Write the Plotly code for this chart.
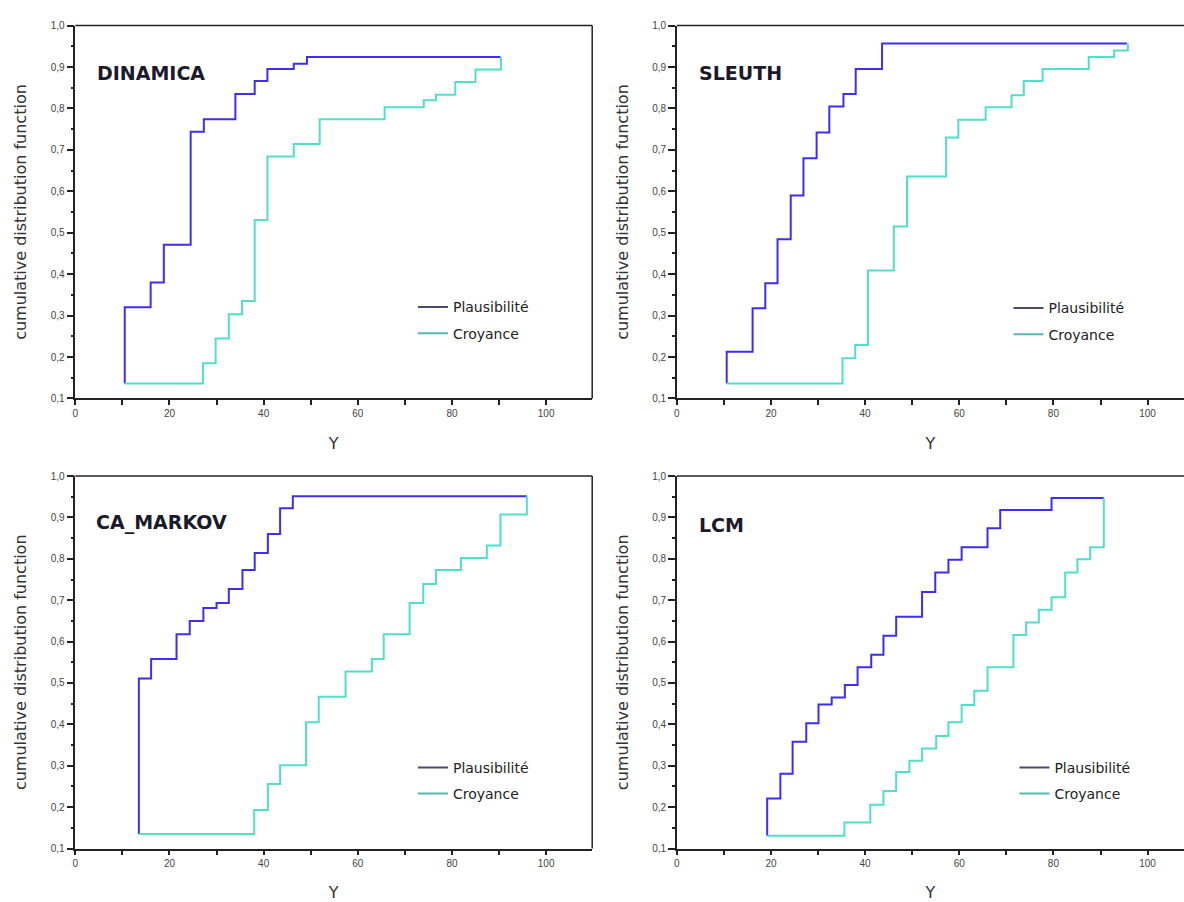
import plotly.graph_objects as go

# ---------------- data ----------------
panel_names = ["DINAMICA", "SLEUTH", "CA_MARKOV", "LCM"]
series_names = ["Plausibilité", "Croyance"]

dinamica_pl_x = [10.5, 10.5, 16.0, 18.8, 24.5, 27.3, 34.0, 38.1, 40.8, 46.4, 49.2, 90.3]
dinamica_pl_y = [0.136, 0.320, 0.380, 0.471, 0.744, 0.774, 0.835, 0.866, 0.895, 0.908, 0.924, 0.924]
dinamica_cr_x = [10.5, 27.1, 29.8, 32.6, 35.4, 38.1, 40.8, 46.4, 51.9, 65.7, 74.0, 76.6, 80.7, 85.0, 90.4]
dinamica_cr_y = [0.136, 0.185, 0.245, 0.303, 0.335, 0.531, 0.684, 0.714, 0.774, 0.803, 0.820, 0.833, 0.864, 0.894, 0.924]

sleuth_pl_x = [10.6, 10.6, 16.1, 18.8, 21.4, 24.2, 26.9, 29.7, 32.4, 35.4, 38.0, 43.6, 95.6]
sleuth_pl_y = [0.136, 0.213, 0.318, 0.378, 0.484, 0.590, 0.680, 0.742, 0.805, 0.835, 0.895, 0.957, 0.957]
sleuth_cr_x = [10.6, 35.2, 37.9, 40.6, 46.1, 48.9, 57.2, 59.8, 65.6, 71.1, 73.7, 77.7, 87.5, 92.9, 95.8]
sleuth_cr_y = [0.136, 0.197, 0.229, 0.409, 0.515, 0.636, 0.730, 0.773, 0.803, 0.832, 0.866, 0.895, 0.924, 0.940, 0.957]

camarkov_pl_x = [13.5, 13.5, 16.1, 21.5, 24.3, 27.2, 30.0, 32.6, 35.5, 38.1, 40.9, 43.5, 46.2, 95.9]
camarkov_pl_y = [0.135, 0.511, 0.558, 0.618, 0.650, 0.681, 0.693, 0.727, 0.773, 0.814, 0.860, 0.922, 0.951, 0.951]
camarkov_cr_x = [13.5, 38.0, 40.9, 43.5, 49.0, 51.7, 57.4, 63.0, 65.5, 71.0, 73.9, 76.6, 81.9, 87.4, 90.3, 95.9]
camarkov_cr_y = [0.135, 0.193, 0.256, 0.301, 0.405, 0.467, 0.528, 0.558, 0.618, 0.693, 0.739, 0.773, 0.802, 0.832, 0.907, 0.951]

lcm_pl_x = [19.2, 19.2, 22.0, 24.6, 27.5, 30.1, 32.9, 35.7, 38.4, 41.3, 43.9, 46.6, 52.1, 54.9, 57.7, 60.5, 66.0, 68.7, 79.6, 90.7]
lcm_pl_y = [0.131, 0.221, 0.281, 0.358, 0.403, 0.448, 0.465, 0.495, 0.538, 0.568, 0.614, 0.660, 0.720, 0.767, 0.798, 0.828, 0.874, 0.918, 0.947, 0.947]
lcm_cr_x = [19.2, 35.6, 41.1, 43.9, 46.6, 49.4, 52.1, 55.1, 57.7, 60.5, 63.2, 66.0, 71.5, 74.2, 76.9, 79.6, 82.5, 85.1, 87.8, 90.7]
lcm_cr_y = [0.131, 0.163, 0.206, 0.239, 0.285, 0.312, 0.342, 0.372, 0.405, 0.447, 0.481, 0.538, 0.616, 0.646, 0.677, 0.707, 0.767, 0.799, 0.828, 0.947]

panels_data = [
    (dinamica_pl_x, dinamica_pl_y, dinamica_cr_x, dinamica_cr_y),
    (sleuth_pl_x, sleuth_pl_y, sleuth_cr_x, sleuth_cr_y),
    (camarkov_pl_x, camarkov_pl_y, camarkov_cr_x, camarkov_cr_y),
    (lcm_pl_x, lcm_pl_y, lcm_cr_x, lcm_cr_y),
]

x_title = "Y"
y_title = "cumulative distribution function"

# ---------------- styling / layout ----------------
W, H = 1184, 902
PL_COLOR = "#3d2ef2"
CR_COLOR = "#4fdfcb"
PL_LEG = "#4b4a6c"
CR_LEG = "#55b8b2"

VK = 1.0133  # vertical spread about the page centre


def vy(y):
    return H / 2 + (y - H / 2) * VK


# pixel boxes of plot areas: (left, right, top, bottom)
boxes = [
    (72.5, 590.7, 25.5, 398.0),
    (675.5, 1184.0, 25.5, 398.0),
    (72.5, 590.7, 475.5, 847.7),
    (675.5, 1184.0, 475.5, 847.7),
]
px_per_unit = 4.72
label_pos = [(92, 73), (696, 73), (91, 522), (696, 524)]
legend_pos = [(411, 291), (1008, 292), (411, 751), (1014, 751)]

fig = go.Figure()
axis_font = dict(family="Liberation Sans, Arial, sans-serif", size=10, color="#444444")
title_font = dict(family="DejaVu Sans, sans-serif", size=16, color="#333333")

annotations = []
shapes = []
for i, (name, data, box) in enumerate(zip(panel_names, panels_data, boxes)):
    n = i + 1
    xa = "x" if n == 1 else f"x{n}"
    ya = "y" if n == 1 else f"y{n}"
    leg = "legend" if n == 1 else f"legend{n}"
    pl_x, pl_y, cr_x, cr_y = data
    fig.add_trace(go.Scatter(x=pl_x, y=pl_y, mode="lines", line=dict(color=PL_COLOR, width=2, shape="hv"),
                             xaxis=xa, yaxis=ya, showlegend=False, hoverinfo="skip"))
    fig.add_trace(go.Scatter(x=cr_x, y=cr_y, mode="lines", line=dict(color=CR_COLOR, width=2, shape="hv"),
                             xaxis=xa, yaxis=ya, showlegend=False, hoverinfo="skip"))
    # legend entries
    for sname, col in zip(series_names, [PL_LEG, CR_LEG]):
        fig.add_trace(go.Scatter(x=[None], y=[None], mode="lines", name=sname,
                                 line=dict(color=col, width=2), xaxis=xa, yaxis=ya,
                                 legend=leg, legendgroup=f"{n}{sname}", showlegend=True))
    l, r, t, b = box
    xdom = [l / W, r / W]
    ydom = [1 - vy(b) / H, 1 - vy(t) / H]
    xmax = (r - l) / px_per_unit
    xkey = "xaxis" if n == 1 else f"xaxis{n}"
    ykey = "yaxis" if n == 1 else f"yaxis{n}"
    fig.update_layout(**{
        xkey: dict(domain=xdom, range=[0, xmax], anchor=ya, showgrid=False, zeroline=False,
                   showline=True, linecolor="#222222", linewidth=1.5,
                   tickmode="linear", tick0=0, dtick=20, ticks="outside", ticklen=5, tickwidth=1.5,
                   tickcolor="#222222", tickfont=axis_font,
                   minor=dict(dtick=10, ticks="outside", ticklen=5, tickwidth=1.5, tickcolor="#222222"),
                   title=dict(text=x_title, font=title_font, standoff=20)),
        ykey: dict(domain=ydom, range=[0.1, 1.0], anchor=xa, showgrid=False, zeroline=False,
                   showline=True, linecolor="#222222", linewidth=1.5,
                   tickmode="linear", tick0=0.1, dtick=0.1, tickformat=".1f",
                   ticks="outside", ticklen=7, tickwidth=1.5, tickcolor="#222222", tickfont=axis_font,
                   minor=dict(dtick=0.05, ticks="outside", ticklen=3, tickwidth=1.5, tickcolor="#222222"),
                   title=dict(text=y_title, font=title_font, standoff=20)),
    })
    lx, ly = legend_pos[i]
    fig.update_layout(**{leg: dict(x=lx / W, y=1 - vy(ly) / H, xanchor="left", yanchor="top",
                                   bgcolor="rgba(255,255,255,0)", borderwidth=0,
                                   font=dict(family="DejaVu Sans, sans-serif", size=14, color="#222222"),
                                   traceorder="grouped", tracegroupgap=5)})
    # top border (and right border for left column)
    shapes.append(dict(type="line", xref=f"{xa} domain", yref=f"{ya} domain", x0=0, x1=1, y0=1, y1=1,
                       line=dict(color="#222222", width=1.5)))
    if i % 2 == 0:
        shapes.append(dict(type="line", xref=f"{xa} domain", yref=f"{ya} domain", x0=1, x1=1, y0=0, y1=1,
                           line=dict(color="#222222", width=1.5)))
    px_, py_ = label_pos[i]
    annotations.append(dict(text=f"<b>{name}</b>", x=px_ / W, y=1 - vy(py_) / H, xref="paper", yref="paper",
                            xanchor="left", yanchor="middle", showarrow=False,
                            font=dict(family="DejaVu Sans, sans-serif", size=19, color="#1a1a2a")))

fig.update_layout(width=W, height=H, margin=dict(l=0, r=0, t=0, b=0),
                  paper_bgcolor="white", plot_bgcolor="white", separators=", ",
                  annotations=annotations, shapes=shapes)

fig.write_html("out.html", config={"displayModeBar": False},
               post_script="document.body.style.margin='0px';")
